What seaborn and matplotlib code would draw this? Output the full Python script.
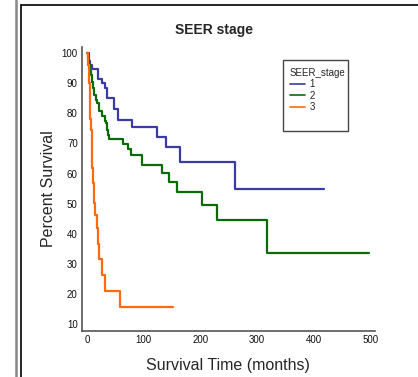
import pandas as pd
import matplotlib.pyplot as plt
import seaborn as sns
from matplotlib.lines import Line2D
from matplotlib.patches import Rectangle

# -------------------------
# DATA
# -------------------------
stage_labels = ["1", "2", "3"]

t_stage1 = [0, 3, 6, 8, 20, 26, 31, 35, 47, 54, 79, 123, 140, 164, 261, 418]
s_stage1 = [100, 97.5, 96.1, 94.6, 91.4, 90.0, 88.3, 85.1, 81.6, 77.9, 75.4, 72.1, 68.8, 63.8, 54.8, 54.8]

t_stage2 = [0, 2, 4, 6, 7.6, 9, 10.6, 13, 16, 18, 20.6, 27, 31, 33, 35, 37, 39.5,
            64, 73, 77.6, 97, 132, 145, 159, 202, 229, 317.5, 498]
s_stage2 = [100, 98, 96.1, 94, 92.8, 90.5, 88.4, 86.1, 84.5, 83.4, 80.7, 79.0, 77.5, 76.7, 74.5, 72.9, 71.4,
            69.8, 68.1, 66.2, 62.7, 60.1, 57.1, 54.0, 49.6, 44.6, 33.6, 33.6]

t_stage3 = [0, 1, 2, 3, 4, 5, 5.5, 6, 7, 8.5, 9.4, 10.5, 12.4, 14, 18, 20, 22, 26, 32, 59, 152]
s_stage3 = [100, 98, 96, 93, 90, 87.5, 83, 78, 74.5, 68, 62, 57, 50.2, 46.3, 41.9, 36.5, 31.6, 26.2, 21.1, 15.8, 15.8]

colors = {"1": "#3b3ba3", "2": "#0b6b0b", "3": "#ff6a10"}

df = pd.concat([
    pd.DataFrame({"time": t_stage1, "surv": s_stage1, "SEER_stage": "1"}),
    pd.DataFrame({"time": t_stage2, "surv": s_stage2, "SEER_stage": "2"}),
    pd.DataFrame({"time": t_stage3, "surv": s_stage3, "SEER_stage": "3"}),
], ignore_index=True)

# -------------------------
# PLOT
# -------------------------
sns.set_style("white")
plt.rcParams["font.family"] = ["Liberation Sans", "DejaVu Sans"]

fig = plt.figure(figsize=(4.18, 3.77), dpi=100)
ax = fig.add_axes([0.196, 0.122, 0.701, 0.753])

for stage in stage_labels:
    sub = df[df["SEER_stage"] == stage]
    sns.lineplot(data=sub, x="time", y="surv", ax=ax, color=colors[stage],
                 drawstyle="steps-post", estimator=None, linewidth=1.6, legend=False)

ax.set_xlim(-9, 508)
ax.set_ylim(7.7, 102)
ax.set_xticks(range(0, 501, 100))
ax.set_xticks(range(50, 501, 100), minor=True)
ax.set_yticks(range(10, 101, 10))
ax.set_yticks(range(15, 101, 10), minor=True)

for lab in ax.get_xticklabels() + ax.get_yticklabels():
    lab.set_fontsize(7)
    lab.set_color("#111111")

ax.tick_params(axis="both", which="major", direction="in", length=5, width=1, color="#555555", pad=3)
ax.tick_params(axis="both", which="minor", direction="in", length=3, width=0.8, color="#888888")
for side in ["top", "right"]:
    ax.spines[side].set_visible(False)
for side in ["left", "bottom"]:
    ax.spines[side].set_color("#555555")
    ax.spines[side].set_linewidth(1.2)

ax.set_xlabel("Survival Time (months)", fontsize=11.5, labelpad=9)
ax.set_ylabel("Percent Survival", fontsize=11.5, labelpad=4)
fig.text(0.512, 0.92, "SEER stage", ha="center", va="center", fontsize=10, fontweight="bold")

# legend with a tall square box
handles = [Line2D([0], [0], color=colors[s], linewidth=1.2) for s in stage_labels]
leg = fig.legend(handles, stage_labels, title="SEER_stage", loc="upper left",
                 bbox_to_anchor=(283 / 418, 1 - 61 / 377), frameon=False,
                 handlelength=1.6, handletextpad=0.4, labelspacing=0.15,
                 borderpad=0.2, prop={"size": 7})
leg.get_title().set_fontsize(7)
leg._legend_box.align = "left"
fig.patches.append(Rectangle((283 / 418, 1 - 131 / 377), 65 / 418, 71 / 377,
                             transform=fig.transFigure, fill=False,
                             edgecolor="#444444", linewidth=1))

# outer page frame lines
fig.add_artist(Line2D([16 / 418, 16 / 418], [0, 1], transform=fig.transFigure, color="#888888", linewidth=1.8))
fig.add_artist(Line2D([21 / 418, 21 / 418], [0, 1 - 5 / 377], transform=fig.transFigure, color="black", linewidth=1.2))
fig.add_artist(Line2D([21 / 418, 1], [1 - 5 / 377, 1 - 5 / 377], transform=fig.transFigure, color="black", linewidth=1.2))

fig.savefig("out.png", dpi=100)
